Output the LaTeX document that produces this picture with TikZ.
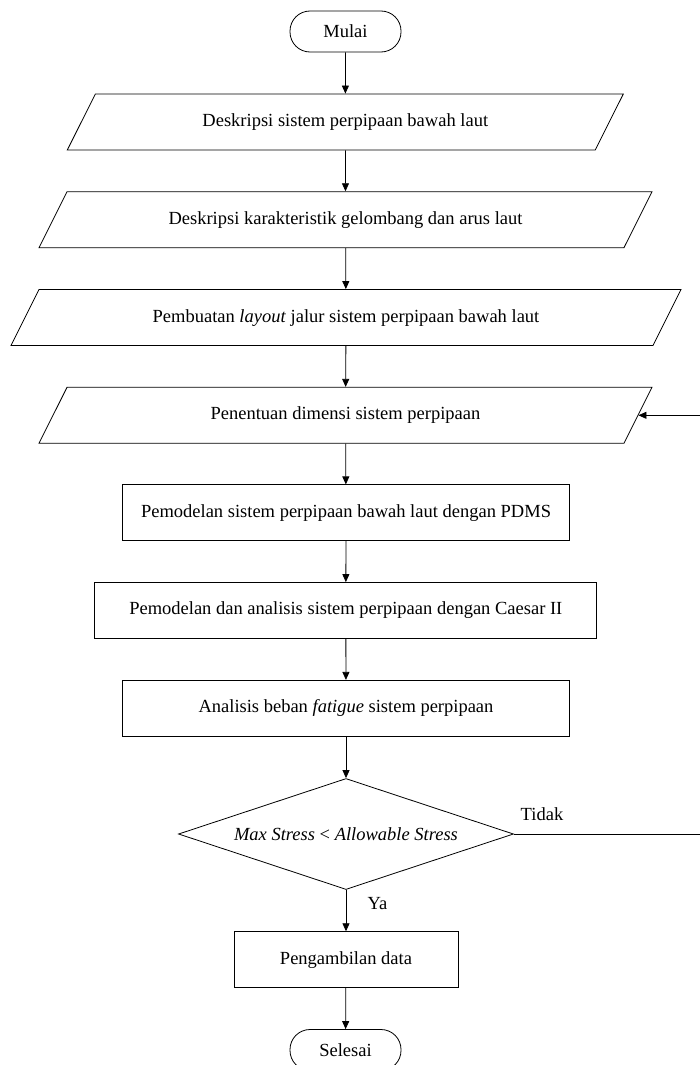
\documentclass[tikz,border=0pt]{standalone}
\usepackage{fontspec}
\setmainfont{Liberation Serif}
\usetikzlibrary{shapes.geometric,arrows.meta}

\tikzset{
  terminal/.style={draw, rectangle, rounded corners=20pt, minimum width=111pt, minimum height=41pt, inner sep=0pt},
  entrada/.style={draw, trapezium, trapezium left angle=63.4, trapezium right angle=116.6,
    trapezium stretches body, text height=13pt, text depth=4pt, inner xsep=0pt, inner ysep=19.5pt},
  proceso/.style={draw, rectangle, minimum height=56pt, inner sep=0pt},
  decision/.style={draw, diamond, aspect=3, minimum width=335pt, minimum height=111pt, inner sep=0pt},
  flecha/.style={-{Triangle[length=8pt,width=7pt]}}
}

\begin{document}
\begin{tikzpicture}[x=1pt, y=-1pt, line width=0.8pt, font=\fontsize{18.5}{22}\selectfont]
% Diagrama de flujo: análisis de fatiga del sistema de tuberías
\useasboundingbox (0,0) rectangle (699,1065);
\node[terminal] (mulai) at (345.5,31.5) {Mulai};
\node[entrada, minimum width=556pt] (p1) at (345.3,122) {Deskripsi sistem perpipaan bawah laut};
\node[entrada, minimum width=613pt] (p2) at (345.5,219.7) {Deskripsi karakteristik gelombang dan arus laut};
\node[entrada, minimum width=670pt] (p3) at (346,317.5) {Pembuatan \textit{layout} jalur sistem perpipaan bawah laut};
\node[entrada, minimum width=613pt] (p4) at (345.5,415.3) {Penentuan dimensi sistem perpipaan};
\node[proceso, minimum width=447pt] (r1) at (346,512.8) {Pemodelan sistem perpipaan bawah laut dengan PDMS};
\node[proceso, minimum width=502pt] (r2) at (345.8,610.5) {Pemodelan dan analisis sistem perpipaan dengan Caesar II};
\node[proceso, minimum width=447pt] (r3) at (346,708.3) {Analisis beban \textit{fatigue} sistem perpipaan};
\node[decision] (dec) at (346,834) {\textit{Max Stress} < \textit{Allowable Stress}};
\node[proceso, minimum width=224pt] (r4) at (346,959.7) {Pengambilan data};
\node[terminal] (selesai) at (345.5,1050) {Selesai};
\node[anchor=west] (tidak) at (517,814) {Tidak};
\node[anchor=west] (ya) at (364,904) {Ya};
\coordinate (vuelta) at (706,834);
\draw[flecha] (mulai) -- (p1);
\draw[flecha] (p1) -- (p2);
\draw[flecha] (p2) -- (p3);
\draw[flecha] (p3) -- (p4);
\draw[flecha] (p4) -- (r1);
\draw[flecha] (r1) -- (r2);
\draw[flecha] (r2) -- (r3);
\draw[flecha] (r3) -- (dec);
\draw[flecha] (dec) -- (r4);
\draw[flecha] (r4) -- (selesai);
\draw[flecha] (dec.east) -- (vuelta) |- (p4.east);
\end{tikzpicture}
\end{document}
